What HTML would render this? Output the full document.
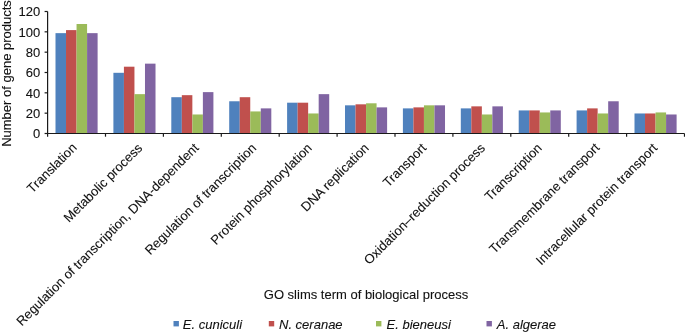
<!DOCTYPE html>
<html><head><meta charset="utf-8"><style>
html,body{margin:0;padding:0;background:#fff;}
body{width:685px;height:332px;overflow:hidden;}
svg{display:block;will-change:transform;}
text{font-family:"Liberation Sans", sans-serif;font-size:13px;fill:#111;stroke:#111;stroke-width:0.1px;}
</style></head><body>
<svg width="685" height="332" viewBox="0 0 685 332">
<rect width="685" height="332" fill="#fff"/>
<rect x="55.50" y="33.15" width="10.53" height="100.35" fill="#4F81BD"/>
<rect x="66.02" y="30.10" width="10.53" height="103.40" fill="#C0504D"/>
<rect x="76.55" y="24.00" width="10.53" height="109.50" fill="#9BBB59"/>
<rect x="87.08" y="33.15" width="10.53" height="100.35" fill="#8064A2"/>
<rect x="113.40" y="72.80" width="10.53" height="60.70" fill="#4F81BD"/>
<rect x="123.92" y="66.70" width="10.53" height="66.80" fill="#C0504D"/>
<rect x="134.45" y="94.15" width="10.53" height="39.35" fill="#9BBB59"/>
<rect x="144.98" y="63.65" width="10.53" height="69.85" fill="#8064A2"/>
<rect x="171.30" y="97.20" width="10.53" height="36.30" fill="#4F81BD"/>
<rect x="181.82" y="95.17" width="10.53" height="38.33" fill="#C0504D"/>
<rect x="192.35" y="114.48" width="10.53" height="19.02" fill="#9BBB59"/>
<rect x="202.88" y="92.12" width="10.53" height="41.38" fill="#8064A2"/>
<rect x="229.20" y="101.27" width="10.53" height="32.23" fill="#4F81BD"/>
<rect x="239.72" y="97.20" width="10.53" height="36.30" fill="#C0504D"/>
<rect x="250.25" y="111.43" width="10.53" height="22.07" fill="#9BBB59"/>
<rect x="260.78" y="108.38" width="10.53" height="25.12" fill="#8064A2"/>
<rect x="287.10" y="102.69" width="10.53" height="30.81" fill="#4F81BD"/>
<rect x="297.62" y="102.69" width="10.53" height="30.81" fill="#C0504D"/>
<rect x="308.15" y="113.47" width="10.53" height="20.03" fill="#9BBB59"/>
<rect x="318.68" y="94.15" width="10.53" height="39.35" fill="#8064A2"/>
<rect x="345.00" y="105.33" width="10.53" height="28.17" fill="#4F81BD"/>
<rect x="355.52" y="104.32" width="10.53" height="29.18" fill="#C0504D"/>
<rect x="366.05" y="103.30" width="10.53" height="30.20" fill="#9BBB59"/>
<rect x="376.58" y="107.37" width="10.53" height="26.13" fill="#8064A2"/>
<rect x="402.90" y="108.38" width="10.53" height="25.12" fill="#4F81BD"/>
<rect x="413.42" y="107.37" width="10.53" height="26.13" fill="#C0504D"/>
<rect x="423.95" y="105.33" width="10.53" height="28.17" fill="#9BBB59"/>
<rect x="434.48" y="105.33" width="10.53" height="28.17" fill="#8064A2"/>
<rect x="460.80" y="108.38" width="10.53" height="25.12" fill="#4F81BD"/>
<rect x="471.32" y="106.35" width="10.53" height="27.15" fill="#C0504D"/>
<rect x="481.85" y="114.48" width="10.53" height="19.02" fill="#9BBB59"/>
<rect x="492.38" y="106.35" width="10.53" height="27.15" fill="#8064A2"/>
<rect x="518.70" y="110.42" width="10.53" height="23.08" fill="#4F81BD"/>
<rect x="529.22" y="110.42" width="10.53" height="23.08" fill="#C0504D"/>
<rect x="539.75" y="112.45" width="10.53" height="21.05" fill="#9BBB59"/>
<rect x="550.28" y="110.42" width="10.53" height="23.08" fill="#8064A2"/>
<rect x="576.60" y="110.42" width="10.53" height="23.08" fill="#4F81BD"/>
<rect x="587.12" y="108.38" width="10.53" height="25.12" fill="#C0504D"/>
<rect x="597.65" y="113.47" width="10.53" height="20.03" fill="#9BBB59"/>
<rect x="608.18" y="101.27" width="10.53" height="32.23" fill="#8064A2"/>
<rect x="634.50" y="113.47" width="10.53" height="20.03" fill="#4F81BD"/>
<rect x="645.02" y="113.47" width="10.53" height="20.03" fill="#C0504D"/>
<rect x="655.55" y="112.45" width="10.53" height="21.05" fill="#9BBB59"/>
<rect x="666.08" y="114.48" width="10.53" height="19.02" fill="#8064A2"/>
<g stroke="#1a1a1a" stroke-width="1.2" fill="none">
<line x1="47.6" y1="11.5" x2="47.6" y2="133.5" />
<line x1="47.1" y1="133.5" x2="684.5" y2="133.5" />
<line x1="44.6" y1="133.50" x2="47.6" y2="133.50" />
<line x1="44.6" y1="113.17" x2="47.6" y2="113.17" />
<line x1="44.6" y1="92.83" x2="47.6" y2="92.83" />
<line x1="44.6" y1="72.50" x2="47.6" y2="72.50" />
<line x1="44.6" y1="52.17" x2="47.6" y2="52.17" />
<line x1="44.6" y1="31.83" x2="47.6" y2="31.83" />
<line x1="44.6" y1="11.50" x2="47.6" y2="11.50" />
<line x1="47.60" y1="133.5" x2="47.60" y2="136.7" />
<line x1="105.50" y1="133.5" x2="105.50" y2="136.7" />
<line x1="163.40" y1="133.5" x2="163.40" y2="136.7" />
<line x1="221.30" y1="133.5" x2="221.30" y2="136.7" />
<line x1="279.20" y1="133.5" x2="279.20" y2="136.7" />
<line x1="337.10" y1="133.5" x2="337.10" y2="136.7" />
<line x1="395.00" y1="133.5" x2="395.00" y2="136.7" />
<line x1="452.90" y1="133.5" x2="452.90" y2="136.7" />
<line x1="510.80" y1="133.5" x2="510.80" y2="136.7" />
<line x1="568.70" y1="133.5" x2="568.70" y2="136.7" />
<line x1="626.60" y1="133.5" x2="626.60" y2="136.7" />
<line x1="684.50" y1="133.5" x2="684.50" y2="136.7" />
</g>
<text x="40.3" y="138.20" text-anchor="end">0</text>
<text x="40.3" y="117.87" text-anchor="end">20</text>
<text x="40.3" y="97.53" text-anchor="end">40</text>
<text x="40.3" y="77.20" text-anchor="end">60</text>
<text x="40.3" y="56.87" text-anchor="end">80</text>
<text x="40.3" y="36.53" text-anchor="end">100</text>
<text x="40.3" y="16.20" text-anchor="end">120</text>
<text x="77.5" y="148.5" text-anchor="end" transform="rotate(-45 77.5 148.5)">Translation</text>
<text x="143.1" y="148.8" text-anchor="end" transform="rotate(-45 143.1 148.8)">Metabolic process</text>
<text x="199.5" y="148.8" text-anchor="end" transform="rotate(-45 199.5 148.8)">Regulation of transcription, DNA-dependent</text>
<text x="257" y="148.8" text-anchor="end" transform="rotate(-45 257 148.8)">Regulation of transcription</text>
<text x="312.7" y="148.8" text-anchor="end" transform="rotate(-45 312.7 148.8)">Protein phosphorylation</text>
<text x="369.7" y="148.8" text-anchor="end" transform="rotate(-45 369.7 148.8)">DNA replication</text>
<text x="427.2" y="148.7" text-anchor="end" transform="rotate(-45 427.2 148.7)">Transport</text>
<text x="485.8" y="148.8" text-anchor="end" transform="rotate(-45 485.8 148.8)">Oxidation–reduction process</text>
<text x="542.7" y="148.8" text-anchor="end" transform="rotate(-45 542.7 148.8)">Transcription</text>
<text x="600.4" y="148.4" text-anchor="end" transform="rotate(-45 600.4 148.4)">Transmembrane transport</text>
<text x="658.2" y="148.7" text-anchor="end" transform="rotate(-45 658.2 148.7)">Intracellular protein transport</text>
<text x="11.3" y="73.5" text-anchor="middle" transform="rotate(-90 11.3 73.5)">Number of gene products</text>
<text x="366" y="298.5" text-anchor="middle">GO slims term of biological process</text>
<rect x="173.5" y="321" width="5.4" height="5.4" fill="#4F81BD"/>
<text x="182.8" y="328.7" font-style="italic">E. cuniculi</text>
<rect x="268.8" y="321" width="5.4" height="5.4" fill="#C0504D"/>
<text x="279" y="328.7" font-style="italic">N. ceranae</text>
<rect x="376" y="321" width="5.4" height="5.4" fill="#9BBB59"/>
<text x="386.6" y="328.7" font-style="italic">E. bieneusi</text>
<rect x="486.5" y="321" width="5.4" height="5.4" fill="#8064A2"/>
<text x="496.8" y="328.7" font-style="italic">A. algerae</text>
</svg>
</body></html>
